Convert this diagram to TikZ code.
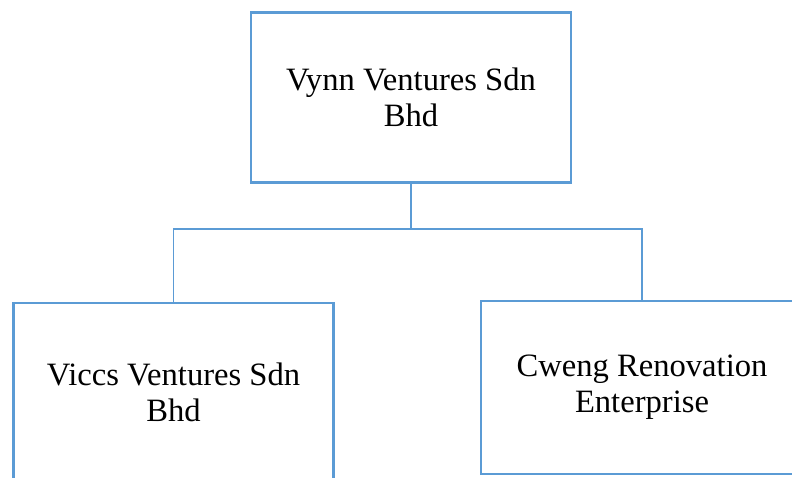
\documentclass[tikz,border=0pt]{standalone}
\usepackage{fontspec}
\setmainfont{Liberation Serif}
\usetikzlibrary{positioning}
\definecolor{boxblue}{RGB}{91,155,213}

\begin{document}
\begin{tikzpicture}[x=1pt, y=-1pt,
    company/.style={rectangle, draw=boxblue, line width=2.8pt, inner sep=0pt,
                    minimum width=321pt, minimum height=170pt,
                    font=\fontsize{32.6}{36}\selectfont, align=center},
    link/.style={draw=boxblue, line width=1.5pt}
]
    \useasboundingbox (0,0) rectangle (792,477);
    \clip (0,0) rectangle (792,477);

    % Parent company
    \node[company, minimum width=320pt] (vynn) at (411,97.75) {Vynn Ventures Sdn\\Bhd};

    % Subsidiaries
    \node[company, minimum width=320.5pt, minimum height=178pt] (viccs) at (173.5,392) {Viccs Ventures Sdn\\Bhd};
    \node[company, minimum width=322pt, minimum height=173pt] (cweng) at (642,387.5) {Cweng Renovation\\Enterprise};

    % Connectors
    \draw[link] (vynn.south) -- ++(0,45) -| (viccs.north);
    \draw[link] (vynn.south) -- ++(0,45) -| (cweng.north);

\end{tikzpicture}
\end{document}
